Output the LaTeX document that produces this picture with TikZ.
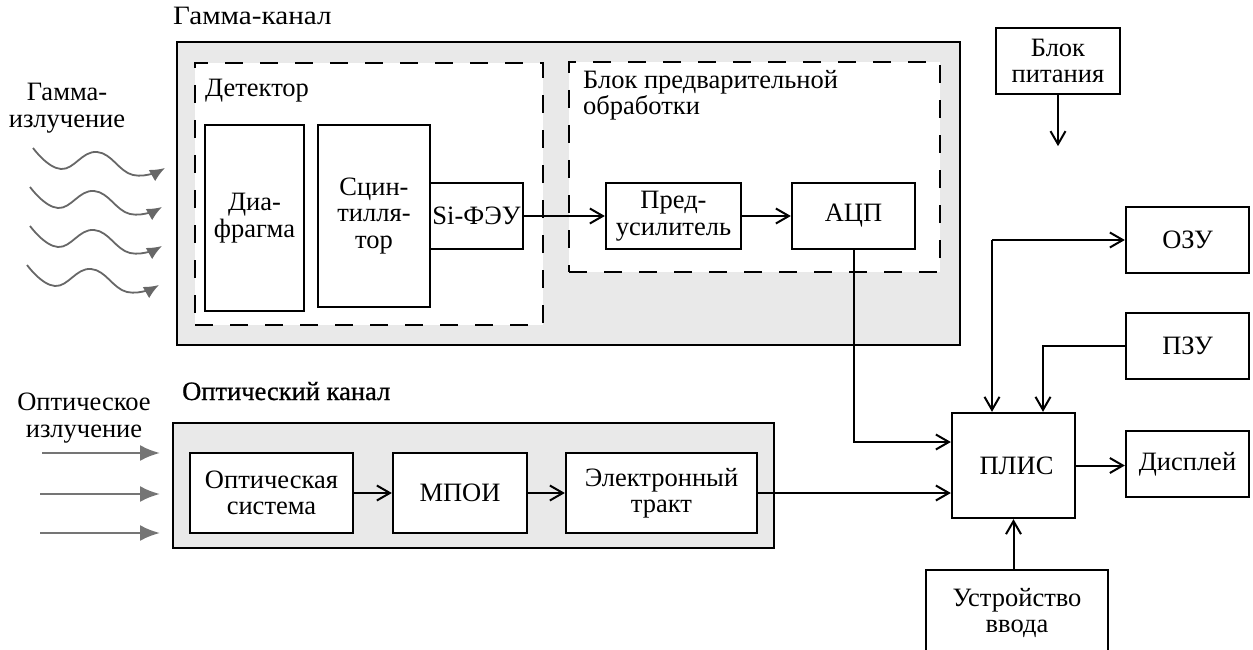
\documentclass[tikz,border=0pt]{standalone}
\usepackage{fontspec}
\usepackage{graphicx}
\setmainfont{Liberation Serif}
\usetikzlibrary{arrows.meta,calc}
\definecolor{chgray}{HTML}{E9E9E9}
\definecolor{radgray}{HTML}{676767}
\definecolor{optgray}{HTML}{757575}
\begin{document}
\begin{tikzpicture}[x=1pt,y=-1pt,
  font=\fontsize{26.5}{26.5}\selectfont,
  box/.style={draw, line width=2.3pt, fill=white, inner sep=0pt, align=center},
  chan/.style={draw, line width=2.6pt, fill=chgray, inner sep=0pt},
  dbox/.style={draw, line width=2.6pt, fill=white, inner sep=0pt, dash pattern=on 18pt off 17pt},
  lbl/.style={inner sep=0pt, anchor=base west},
  arr/.style={line width=2pt, -{Straight Barb[length=13pt,width=15pt,line width=2pt]}},
  thinarr/.style={line width=1.4pt, -{Straight Barb[length=13pt,width=15pt,line width=2pt]}},
  wave/.style={draw=radgray, line width=1.8pt, -{Latex[length=15pt,width=13pt]}},
  optarr/.style={draw=optgray, line width=2.5pt, -{Latex[length=20pt,width=16pt]}}
]
\useasboundingbox (0,0) rectangle (1253,650);

% containers
\node[chan, minimum width=783pt, minimum height=303pt] (gamma) at (568.5,193.5) {};
\node[dbox, minimum width=348pt, minimum height=262pt] (det) at (369,194) {};
\node[dbox, minimum width=371pt, minimum height=210pt] (pre) at (754.5,167) {};
\node[chan, minimum width=601pt, minimum height=125pt] (optch) at (473.5,485.5) {};

% labels
\node[lbl] (lgamma) at (173,25) {\scalebox{1.1}[1]{Гамма-канал}};
\node[lbl] (ldet) at (205,97) {Детектор};
\node[inner sep=0pt, align=left, anchor=north west] (lpre) at (583,70) {Блок предварительной\\обработки};
\node[lbl] (lopt) at (182,400) {\addfontfeatures{FakeBold=0.8}Оптический канал};
\node[inner sep=0pt, align=center] (lgrad) at (67,108) {Гамма-\\излучение};
\node[inner sep=0pt, align=center] (lorad) at (84,418) {Оптическое\\излучение};

% gamma channel blocks
\node[box, minimum width=99pt, minimum height=186pt] (diaf) at (254.5,218) {Диа-\\фрагма};
\node[box, minimum width=112pt, minimum height=182pt] (scint) at (374,216) {Сцин-\\тилля-\\тор};
\node[box, minimum width=93pt, minimum height=66pt] (sipm) at (476.5,216) {Si-ФЭУ};
\node[box, minimum width=135pt, minimum height=66pt] (pamp) at (673.5,216) {Пред-\\усилитель};
\node[box, minimum width=123pt, minimum height=66pt] (adc) at (853.5,216) {АЦП};

% optical channel blocks
\node[box, minimum width=163pt, minimum height=80pt] (optsys) at (271.5,493) {Оптическая\\система};
\node[box, minimum width=134pt, minimum height=80pt] (mpoi) at (460,493) {МПОИ};
\node[box, minimum width=191pt, minimum height=80pt] (elec) at (661.5,493) {Электронный\\тракт};

% right side
\node[box, minimum width=124pt, minimum height=66pt] (power) at (1058,61) {Блок\\питания};
\node[box, minimum width=123pt, minimum height=66pt] (ozu) at (1187.5,240) {ОЗУ};
\node[box, minimum width=123pt, minimum height=66pt] (pzu) at (1187.5,346) {ПЗУ};
\node[box, minimum width=123pt, minimum height=105pt] (plis) at (1013.5,465.5) {\hspace*{6pt}ПЛИС};
\node[box, minimum width=182pt, minimum height=86pt] (input) at (1017,613) {Устройство\\ввода};
\node[box, minimum width=123pt, minimum height=66pt] (disp) at (1187.5,464) {Дисплей};

% connectors
\draw[line width=2.4pt, -{Straight Barb[length=13pt,width=15pt,line width=2pt]}] (sipm.east) -- (pamp.west);
\draw[thinarr] (pamp.east) -- (adc.west);
\draw[arr] (adc.south) |- ([yshift=23.5pt]plis.west);
\draw[arr] (elec.east) -- (elec.east -| plis.west);
\draw[arr] (optsys.east) -- (mpoi.west);
\draw[arr] (mpoi.east) -- (elec.west);
\draw[arr] (plis.east) -- (plis.east -| disp.west);
\draw[arr] (input.north -| plis.south) -- (plis.south);
\coordinate (pwrEnd) at ([yshift=-51pt]power.south);
\draw[arr] (power.south) -- (pwrEnd);
\coordinate (ozuTurn) at ([xshift=-21.5pt]plis.north |- ozu.west);
\draw[arr] (ozuTurn) -- (ozu.west);
\draw[arr] (ozuTurn) -- ([xshift=-21.5pt]plis.north);
\draw[arr] (pzu.west) -| ([xshift=29.5pt]plis.north);

% gamma radiation waves
\foreach \sx/\sy in {33/148, 30/187, 30/226, 27/265} {
  \begin{scope}[shift={(\sx,\sy)}]
    \draw[wave] plot[smooth, tension=0.75] coordinates {(0,0) (28,21) (64,4) (100,27) (132,20)};
  \end{scope}
}

% optical radiation arrows
\draw[optarr] (42,453) -- (160,453);
\draw[optarr] (40,494) -- (160,494);
\draw[optarr] (40,533) -- (160,533);
\end{tikzpicture}
\end{document}
